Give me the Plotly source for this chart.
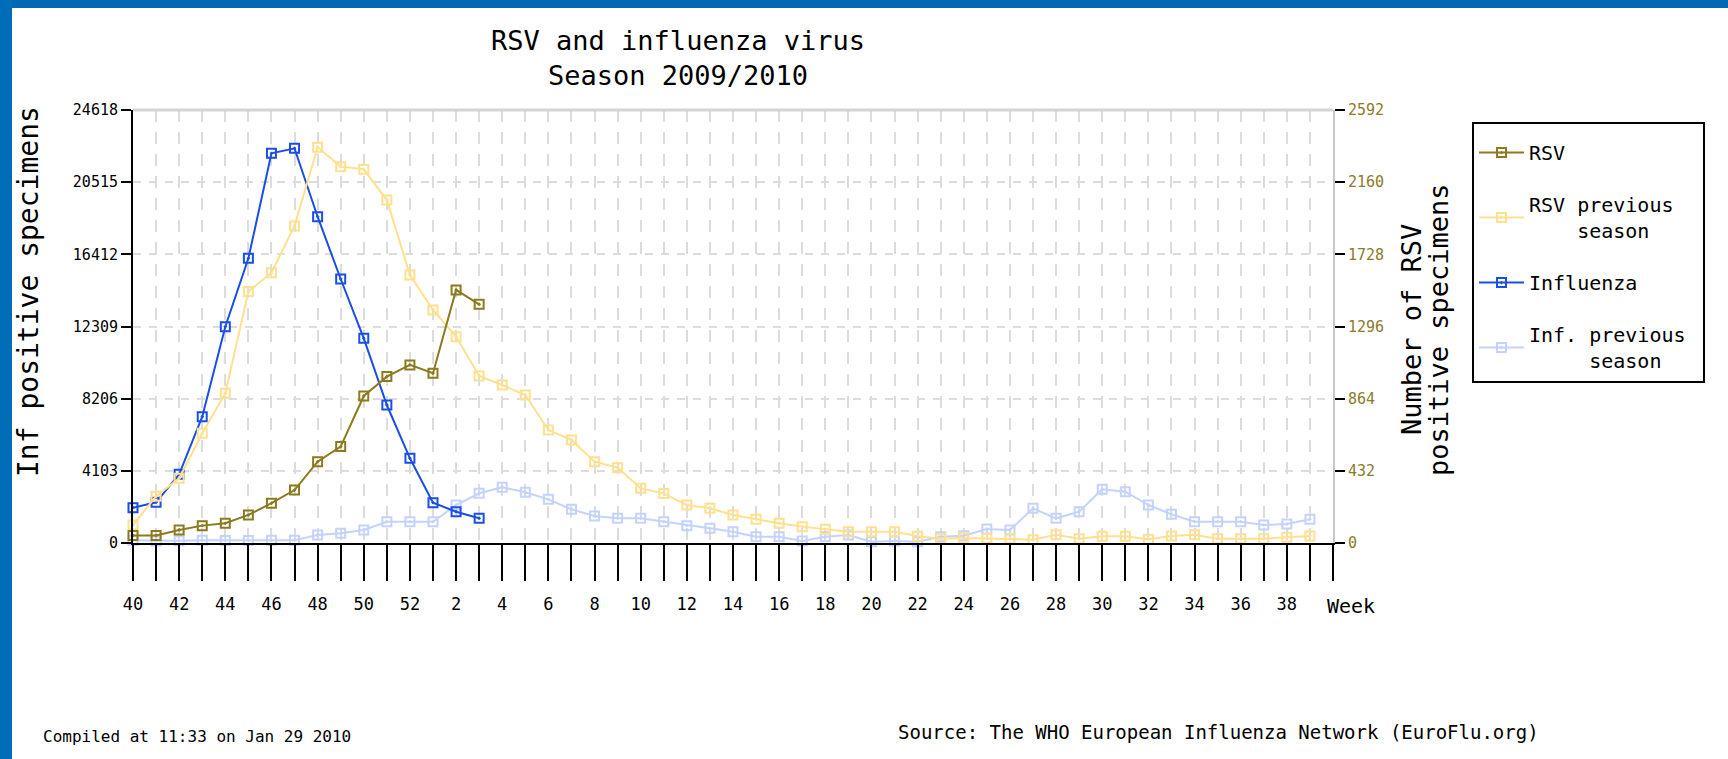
import plotly.graph_objects as go

# ---------------- data ----------------
weeks = [str(w) for w in list(range(40, 53)) + list(range(1, 40))]

influenza = [2007, 2314, 3905, 7180, 12297, 16185, 22154, 22438, 18551, 15009,
             11637, 7845, 4815, 2291, 1780, 1404] + [None] * 36

rsv = [45, 45, 78, 104, 118, 168, 238, 317, 487, 577, 880, 996, 1066, 1016,
       1515, 1429] + [None] * 36

rsv_prev = [108, 280, 387, 657, 896, 1505, 1618, 1898, 2369, 2253, 2237, 2053,
            1604, 1395, 1235, 1000, 946, 886, 676, 617, 487, 451, 327, 297, 227,
            208, 168, 142, 118, 98, 82, 68, 68, 68, 40, 25, 30, 28, 25, 20, 50,
            25, 40, 40, 22, 42, 50, 25, 25, 25, 35, 42]

inf_prev = [150, 120, 130, 150, 140, 140, 150, 160, 455, 550, 739, 1211, 1211,
            1211, 2160, 2825, 3164, 2881, 2483, 1914, 1535, 1403, 1403, 1211,
            985, 833, 644, 360, 360, 114, 360, 455, 76, 114, 76, 360, 415, 796,
            739, 1971, 1403, 1782, 3050, 2918, 2160, 1630, 1211, 1211, 1211,
            1023, 1080, 1345]

left_ticks = [0, 4103, 8206, 12309, 16412, 20515, 24618]
right_ticks = [0, 432, 864, 1296, 1728, 2160, 2592]
x_label_text = "Week"

# ---------------- style ----------------
FONT = "DejaVu Sans Mono"
RSV_C = "#8B7A1E"
RSVP_C = "#FFE08E"
INF_C = "#1A4FE6"
INFP_C = "#C4D2FF"
OLIVE_TXT = "#8C7B2A"

W, H = 1728, 759
L, R, T, B = 133, 1333, 110, 543
NB = "\u00a0"


def px(xp):
    return (xp - L) / (R - L)


def py(yp):
    return (B - yp) / (B - T)


cats = weeks + [x_label_text]
ticktext = [w if i % 2 == 0 else "" for i, w in enumerate(weeks)] + [""]

fig = go.Figure()


def add(y, name, color, axis, rank, width=2):
    fig.add_trace(go.Scatter(
        x=weeks, y=y, name=name, yaxis=axis, mode="lines+markers",
        line=dict(color=color, width=width),
        marker=dict(symbol="square-open-dot", size=9, color=color,
                    line=dict(color=color, width=2)),
        cliponaxis=False, connectgaps=False, legendrank=rank,
        legendgroup=name,
    ))


add(inf_prev, "Inf. previous" + NB + "<br>" + NB * 5 + "season", INFP_C, "y", 4)
add(influenza, "Influenza", INF_C, "y", 3)
add(rsv_prev, "RSV previous<br>" + NB * 4 + "season", RSVP_C, "y2", 2)
add(rsv, "RSV", RSV_C, "y2", 1)

fig.update_layout(
    width=W, height=H,
    margin=dict(l=L, r=W - R, t=T, b=H - B, pad=0),
    paper_bgcolor="white", plot_bgcolor="white",
    font=dict(family=FONT, size=15, color="black"),
    title=dict(text="RSV and influenza virus<br>Season 2009/2010",
               x=678 / W, xanchor="center", y=1 - 50 / H, yanchor="middle",
               font=dict(family=FONT, size=27, color="black")),
    xaxis=dict(
        type="category", categoryorder="array", categoryarray=cats,
        range=[0, len(weeks)], tickmode="array", tickvals=cats,
        ticktext=ticktext, ticks="outside", ticklen=36, tickwidth=2,
        tickcolor="black", showline=True, linecolor="black", linewidth=2,
        showgrid=True, gridcolor="#dcdcdc", gridwidth=2, griddash="12px,10px",
        tickfont=dict(family=FONT, size=17, color="black"),
        ticklabelstandoff=9, zeroline=False,
    ),
    yaxis=dict(
        range=[0, 24618], tickmode="array", tickvals=left_ticks,
        ticktext=[str(v) for v in left_ticks],
        ticks="outside", ticklen=10, tickwidth=2, tickcolor="black",
        showline=True, linecolor="black", linewidth=2,
        showgrid=True, gridcolor="#dcdcdc", gridwidth=2, griddash="8px,8px",
        zeroline=False, tickfont=dict(family=FONT, size=15, color="black"),
    ),
    yaxis2=dict(
        range=[0, 2592], tickmode="array", tickvals=right_ticks,
        ticktext=[str(v) for v in right_ticks],
        overlaying="y", side="right", ticks="outside", ticklen=10,
        tickwidth=2, tickcolor="black", showline=True, linecolor="#c8c8c8",
        linewidth=2, showgrid=False, zeroline=False,
        tickfont=dict(family=FONT, size=15, color=OLIVE_TXT),
    ),
    legend=dict(
        x=px(1472), y=py(122), xanchor="left", yanchor="top",
        bordercolor="black", borderwidth=2, bgcolor="white",
        font=dict(family=FONT, size=20, color="black"),
        title=dict(text=NB, font=dict(size=7)),
        itemwidth=45, tracegroupgap=23, traceorder="grouped",
    ),
    showlegend=True,
)

# frame lines (top border of plot area, blue page borders)
fig.add_shape(type="line", xref="paper", yref="paper", x0=0, x1=1, y0=1, y1=1,
              line=dict(color="#d4d4d4", width=3))
fig.add_shape(type="rect", xref="paper", yref="paper",
              x0=px(0), x1=px(W), y0=py(0), y1=py(8),
              fillcolor="#0069B1", line=dict(width=0))
fig.add_shape(type="rect", xref="paper", yref="paper",
              x0=px(0), x1=px(12), y0=py(0), y1=py(H),
              fillcolor="#006DB9", line=dict(width=0))

ann = [
    dict(text="Inf positive specimens", x=px(28), y=py(292), textangle=-90,
         font=dict(family=FONT, size=28, color="black")),
    dict(text="Number of RSV", x=px(1411), y=py(330),
         textangle=-90, font=dict(family=FONT, size=27, color="black")),
    dict(text="positive specimens", x=px(1438), y=py(330),
         textangle=-90, font=dict(family=FONT, size=27, color="black")),
    dict(text=x_label_text, x=px(1351), y=py(606),
         font=dict(family=FONT, size=20, color="black")),
    dict(text="Compiled at 11:33 on Jan 29 2010", x=px(41), y=py(736),
         xanchor="left", font=dict(family=FONT, size=16, color="black")),
    dict(text="Source: The WHO European Influenza Network (EuroFlu.org)",
         x=px(896), y=py(732), xanchor="left",
         font=dict(family=FONT, size=19, color="black")),
]
for a in ann:
    a.setdefault("xanchor", "center")
    fig.add_annotation(xref="paper", yref="paper", showarrow=False,
                       yanchor="middle", **a)

fig.write_html(
    "out.html",
    config={"displayModeBar": False},
    post_script="document.body.style.margin='0px';"
                "document.body.style.overflow='hidden';",
)
